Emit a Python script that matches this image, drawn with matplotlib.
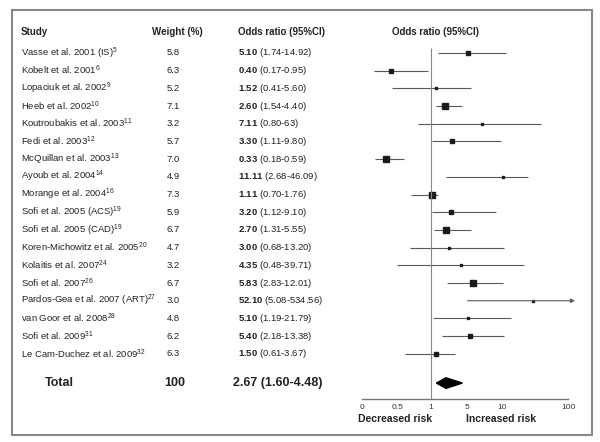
import numpy as np
import matplotlib
matplotlib.use('Agg')
import matplotlib.pyplot as plt
from matplotlib import transforms
from matplotlib.patches import Rectangle, Polygon

plt.rcParams['font.family'] = ['Liberation Sans', 'DejaVu Sans']
plt.rcParams['mathtext.fontset'] = 'custom'
plt.rcParams['mathtext.rm'] = 'Liberation Sans'
plt.rcParams['mathtext.bf'] = 'Liberation Sans:bold'
plt.rcParams['mathtext.it'] = 'Liberation Sans:italic'
plt.rcParams['mathtext.default'] = 'regular'

# data
studies = ['Vasse et al. 2001 (IS)', 'Kobelt et al. 2001', 'Lopaciuk et al. 2002',
           'Heeb et al. 2002', 'Koutroubakis et al. 2003', 'Fedi et al. 2003',
           'McQuillan et al. 2003', 'Ayoub et al. 2004', 'Morange et al. 2004',
           'Sofi et al. 2005 (ACS)', 'Sofi et al. 2005 (CAD)', 'Koren-Michowitz et al. 2005',
           'Kolaitis et al. 2007', 'Sofi et al. 2007', 'Pardos-Gea et al. 2007 (ART)',
           'van Goor et al. 2008', 'Sofi et al. 2009', 'Le Cam-Duchez et al. 2009']
refs = [5, 6, 9, 10, 11, 12, 13, 14, 16, 19, 19, 20, 24, 26, 27, 28, 31, 32]
weights = [5.8, 6.3, 5.2, 7.1, 3.2, 5.7, 7.0, 4.9, 7.3, 5.9, 6.7, 4.7, 3.2, 6.7, 3.0, 4.8, 6.2, 6.3]
odds = [5.10, 0.40, 1.52, 2.60, 7.11, 3.30, 0.33, 11.11, 1.11, 3.20, 2.70, 3.00,
        4.35, 5.83, 52.10, 5.10, 5.40, 1.50]
ci_low = ['1.74', '0.17', '0.41', '1.54', '0.80', '1.11', '0.18', '2.68', '0.70', '1.12',
          '1.31', '0.68', '0.48', '2.83', '5.08', '1.19', '2.18', '0.61']
ci_high = ['14.92', '0.95', '5.60', '4.40', '63', '9.80', '0.59', '46.09', '1.76', '9.10',
           '5.55', '13.20', '39.71', '12.01', '534.56', '21.79', '13.38', '3.67']
total_weight = 100
total_or = 2.67
total_low = 1.60
total_high = 4.48
tick_vals = [0, 0.5, 1, 5, 10, 100]
tick_labels = ['0', '0.5', '1', '5', '10', '100']

W, H = 600, 442

# hand-drawn axis of the original: piecewise between the tick marks
anchor_vals = [-1, 0, 0.5, 1, 5, 10, 100, 1000]
anchor_px = [293, 362, 398, 431, 467, 502, 568, 1228]


def fwd(v):
    return np.interp(v, anchor_vals, anchor_px)


def inv(p):
    return np.interp(p, anchor_px, anchor_vals)


def fx(px):
    return px / W


def fy(py):
    return 1 - py / H


fig = plt.figure(figsize=(6, 4.42), dpi=100)
ax = fig.add_axes([fx(355), fy(399), fx(580) - fx(355), fy(40) - fy(399)])
ax.set_xscale('function', functions=(fwd, inv))
ax.set_xlim(inv(355), inv(580))
ax.set_ylim(19.55, -0.73)

line_col = '#5a5a5a'
box_col = '#1a1a1a'
n = len(studies)
x_arrow = inv(575)

for i in range(n):
    lo = float(ci_low[i])
    hi = float(ci_high[i])
    if hi > x_arrow:
        ax.annotate('', xy=(x_arrow, i), xytext=(lo, i),
                    arrowprops=dict(arrowstyle='-|>', color=line_col, lw=0.8,
                                    mutation_scale=6, shrinkA=0, shrinkB=0))
    else:
        ax.hlines(i, lo, hi, color=line_col, lw=0.8)
    side = np.clip(2.5 + (weights[i] - 5.0) * 1.9, 2.5, 7.0)
    ax.plot(odds[i], i, marker='s', ms=side * 0.72, color=box_col, ls='none')

# pooled estimate
y_tot = 18.65
dh = 0.3
ax.add_patch(Polygon([(total_low, y_tot), (total_or, y_tot - dh), (total_high, y_tot),
                      (total_or, y_tot + dh)], closed=True, color='black'))

ax.vlines(1, -0.28, 19.55, color='#888888', lw=0.8)

for s in ['top', 'right', 'left']:
    ax.spines[s].set_visible(False)
ax.spines['bottom'].set_bounds(0, 100)
ax.spines['bottom'].set_color('#777777')
ax.spines['bottom'].set_linewidth(1.0)
ax.set_xticks(tick_vals, tick_labels)
ax.xaxis.set_minor_locator(matplotlib.ticker.NullLocator())
ax.tick_params(axis='x', length=0, pad=3.5, labelsize=6, colors='#333333')
ax.set_yticks([])

# text columns
tr = transforms.blended_transform_factory(fig.transFigure, ax.transData)
txt_col = '#222222'
y_head = -1.2
ax.text(fx(21), y_head, 'Study', transform=tr, ha='left', va='center',
        fontsize=7, fontweight='bold', color=txt_col)
ax.text(fx(177), y_head, 'Weight (%)', transform=tr, ha='center', va='center',
        fontsize=7, fontweight='bold', color=txt_col)
ax.text(fx(238), y_head, 'Odds ratio (95%CI)', transform=tr, ha='left', va='center',
        fontsize=7, fontweight='bold', color=txt_col)
ax.text(fx(436), y_head, 'Odds ratio (95%CI)', transform=tr, ha='center', va='center',
        fontsize=7, fontweight='bold', color=txt_col)

for i in range(n):
    ax.text(fx(21), i, f'{studies[i]}$^{{{refs[i]}}}$', transform=tr, ha='left',
            va='center', fontsize=6.8, color=txt_col)
    ax.text(fx(173), i, f'{weights[i]:.1f}', transform=tr, ha='center', va='center',
            fontsize=6.8, color=txt_col)
    ax.text(fx(238), i, rf'$\mathbf{{{odds[i]:.2f}}}$ ({ci_low[i]}-{ci_high[i]})',
            transform=tr, ha='left', va='center', fontsize=6.8, color=txt_col)

ax.text(fx(45), y_tot, 'Total', transform=tr, ha='left', va='center',
        fontsize=9, fontweight='bold', color=txt_col)
ax.text(fx(175), y_tot, f'{total_weight}', transform=tr, ha='center', va='center',
        fontsize=9, fontweight='bold', color=txt_col)
ax.text(fx(233), y_tot, f'{total_or:.2f} ({total_low:.2f}-{total_high:.2f})', transform=tr,
        ha='left', va='center', fontsize=9, fontweight='bold', color=txt_col)

fig.text(fx(395), fy(419), 'Decreased risk', ha='center', va='center',
         fontsize=7.5, fontweight='bold', color=txt_col)
fig.text(fx(501), fy(419), 'Increased risk', ha='center', va='center',
         fontsize=7.5, fontweight='bold', color=txt_col)

# outer frame
fig.patches.append(Rectangle((fx(12), fy(435)), fx(592) - fx(12), fy(10) - fy(435),
                             transform=fig.transFigure, fill=False,
                             ec='#888888', lw=1.5))

fig.savefig('out.png', dpi=100)
